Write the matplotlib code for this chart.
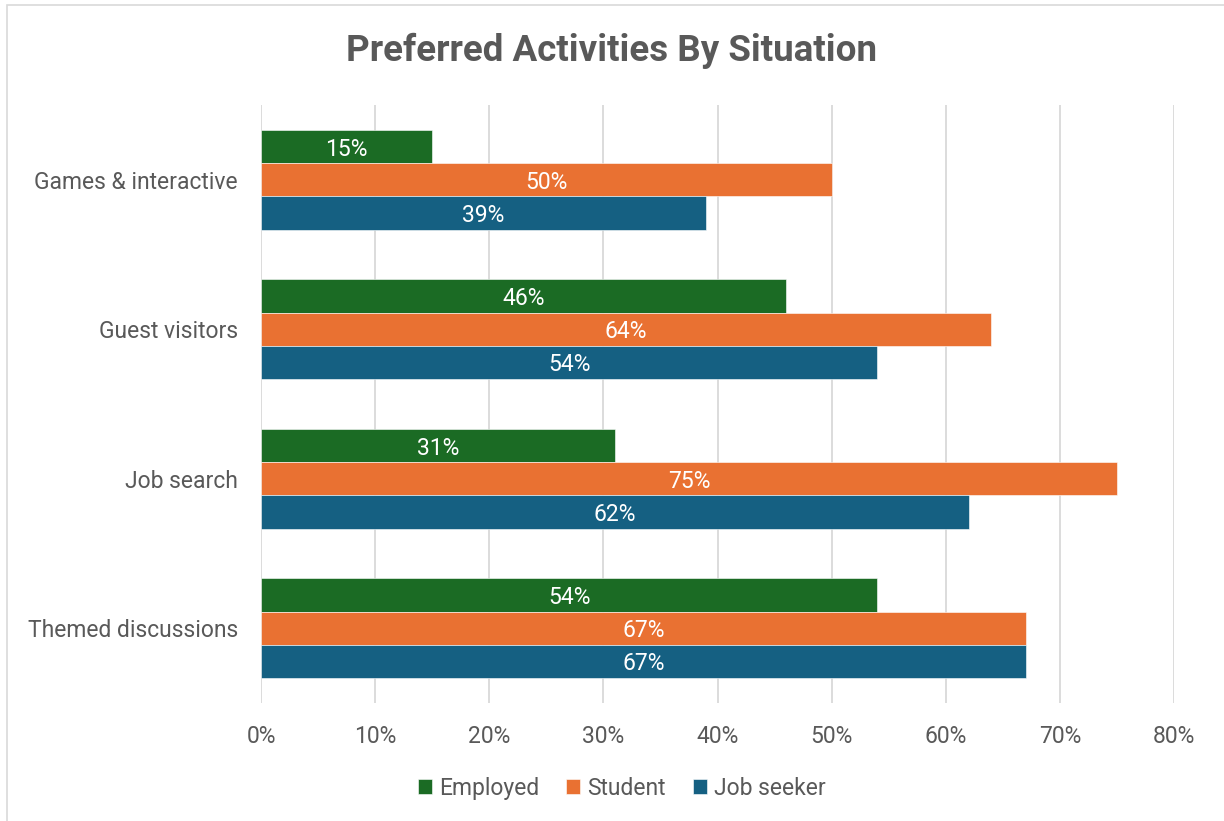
import matplotlib.pyplot as plt
import matplotlib.patches as mpatches
from matplotlib.ticker import MultipleLocator, FuncFormatter
import numpy as np

plt.rcParams['font.family'] = ['Roboto', 'DejaVu Sans']

activities = ["Games & interactive", "Guest visitors", "Job search", "Themed discussions"]
series = ["Employed", "Student", "Job seeker"]
employed = [15, 46, 31, 54]
student = [50, 64, 75, 67]
job_seeker = [39, 54, 62, 67]
colors = ["#1B6B24", "#E97132", "#156082"]

text_grey = "#595959"
grid_grey = "#D9D9D9"

fig = plt.figure(figsize=(12.24, 8.21), dpi=100)
fig.patches.append(mpatches.Rectangle((7 / 1224, -0.01), 1.2, 1 - 5 / 821 + 0.01,
                                      transform=fig.transFigure, fill=False,
                                      edgecolor="#D9D9D9", linewidth=1.2))
ax = fig.add_axes([261 / 1224, 118 / 821, 913 / 1224, 598 / 821])

y = np.arange(len(activities))
h = 0.222
for i, (vals, name, c) in enumerate(zip([employed, student, job_seeker], series, colors)):
    pos = y + (i - 1) * h
    bars = ax.barh(pos, vals, height=h, color=c, label=name, zorder=3,
                   edgecolor="white", linewidth=0.4)
    for b, v in zip(bars, vals):
        ax.text(v / 2, b.get_y() + b.get_height() / 2, f"{v}%", ha="center",
                va="center_baseline", color="white", fontsize=16.5, zorder=4)

ax.set_ylim(len(activities) - 0.5, -0.5)
ax.set_xlim(0, 80)
ax.xaxis.set_major_locator(MultipleLocator(10))
ax.xaxis.set_major_formatter(FuncFormatter(lambda v, _: f"{v:.0f}%"))
ax.set_yticks(y)
ax.set_yticklabels(activities)
ax.tick_params(axis="both", length=0, labelsize=16.5, colors=text_grey)
ax.tick_params(axis="x", pad=16)
ax.tick_params(axis="y", pad=16.5)
ax.grid(axis="x", color=grid_grey, linewidth=1.3, zorder=0)
for s in ax.spines.values():
    s.set_visible(False)

fig.text(0.5, 0.938, "Preferred Activities By Situation", ha="center", va="center",
         fontsize=26.5, fontweight="bold", color=text_grey)

leg = fig.legend(loc="center", bbox_to_anchor=(0.508, 0.04), ncol=3, frameon=False,
                 fontsize=16.5, handlelength=0.6, handleheight=0.6, handletextpad=0.3,
                 columnspacing=1.2)
for t in leg.get_texts():
    t.set_color(text_grey)

fig.savefig("out.png", dpi=100)
